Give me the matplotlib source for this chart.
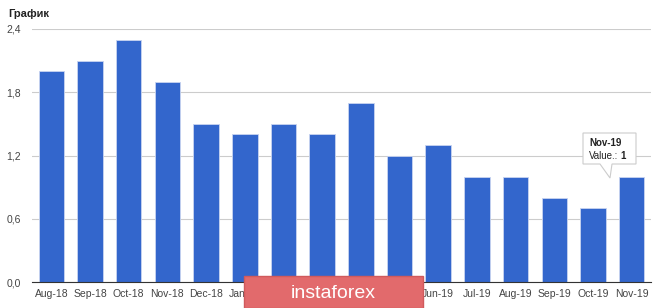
import matplotlib.pyplot as plt
from matplotlib.patches import Rectangle, Polygon

plt.rcParams['font.family'] = ['Liberation Sans', 'DejaVu Sans']

# данные
meses = ['Aug-18', 'Sep-18', 'Oct-18', 'Nov-18', 'Dec-18', 'Jan-19', 'Feb-19', 'Mar-19',
         'Apr-19', 'May-19', 'Jun-19', 'Jul-19', 'Aug-19', 'Sep-19', 'Oct-19', 'Nov-19']
valores = [2.0, 2.1, 2.3, 1.9, 1.5, 1.4, 1.5, 1.4, 1.7, 1.2, 1.3, 1.0, 1.0, 0.8, 0.7, 1.0]
yticks = [0.0, 0.6, 1.2, 1.8, 2.4]
ylabels = ['0,0', '0,6', '1,2', '1,8', '2,4']

W, H = 665, 308
fig = plt.figure(figsize=(W / 100, H / 100), dpi=100)
ax = fig.add_axes([32 / W, 26 / H, 619 / W, 253 / H])

x = list(range(len(meses)))
ax.bar(x, valores, width=0.66, color='#3366cc', edgecolor='#c8d4f0', linewidth=0.6, zorder=3)

ax.set_xlim(-0.5, len(meses) - 0.5)
ax.set_ylim(0, 2.4)
ax.set_yticks(yticks)
ax.set_yticklabels(ylabels)
ax.set_xticks(x)
ax.set_xticklabels(meses)
ax.tick_params(axis='both', length=0, labelsize=7.5, colors='#444444')
ax.tick_params(axis='y', pad=8)
ax.tick_params(axis='x', pad=5)
ax.grid(axis='y', color='#cccccc', linewidth=0.8, zorder=0)
for s in ['top', 'right', 'left']:
    ax.spines[s].set_visible(False)
ax.spines['bottom'].set_color('#333333')
ax.spines['bottom'].set_zorder(4)

fig.text(8 / W, 1 - 14 / H, 'График', fontsize=8, fontweight='bold', color='#222222', va='center')

# подсказка
tx0, tx1, ty0, ty1 = 583, 636, 133, 164
fig.patches.append(Polygon([(tx0 / W, 1 - ty0 / H), (tx1 / W, 1 - ty0 / H), (tx1 / W, 1 - ty1 / H),
                            (612 / W, 1 - ty1 / H), (610 / W, 1 - 178 / H), (600 / W, 1 - ty1 / H),
                            (tx0 / W, 1 - ty1 / H)],
                           closed=True, transform=fig.transFigure, facecolor='white',
                           edgecolor='#cccccc', linewidth=0.8, zorder=10))
fig.text(589 / W, 1 - 143 / H, meses[-1], fontsize=7, fontweight='bold', color='#222222',
         va='center', zorder=11)
fig.text(589 / W, 1 - 156 / H, 'Value.:', fontsize=7, color='#222222', va='center', zorder=11)
fig.text(620 / W, 1 - 156 / H, '%g' % valores[-1], fontsize=7, fontweight='bold',
         color='#222222', va='center', zorder=11)

# водяной знак
fig.patches.append(Rectangle((244 / W, 0), 179 / W, 32 / H, transform=fig.transFigure,
                             facecolor='#e26a6c', edgecolor='#d05a5c', zorder=10))
fig.text(333 / W, 15 / H, 'instaforex', fontsize=14, color='white', ha='center',
         va='center', zorder=11)

fig.savefig('out.png', dpi=100)
